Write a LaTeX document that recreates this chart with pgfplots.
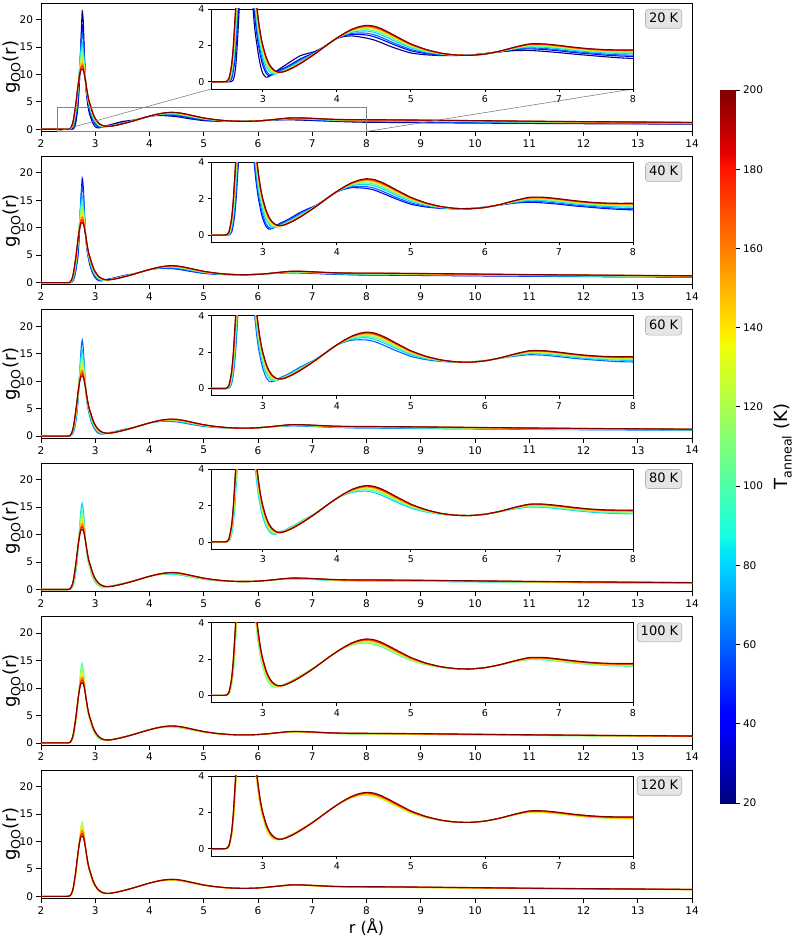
\documentclass[border=0pt]{standalone}
\usepackage{fontspec}
\setmainfont{DejaVu Sans}
\usepackage{pgfplots}
\usepackage{pgfplotstable}
\pgfplotsset{compat=1.18}

\definecolor{c20}{rgb}{0,0,0.5}
\definecolor{c40}{rgb}{0,0,1}
\definecolor{c60}{rgb}{0,0.389,1}
\definecolor{c80}{rgb}{0,0.833,1}
\definecolor{c100}{rgb}{0.303,1,0.665}
\definecolor{c120}{rgb}{0.664,1,0.303}
\definecolor{c140}{rgb}{1,0.9,0}
\definecolor{c160}{rgb}{1,0.489,0}
\definecolor{c180}{rgb}{1,0.078,0}
\definecolor{c200}{rgb}{0.5,0,0}
\definecolor{boxfill}{rgb}{0.9,0.9,0.9}
\definecolor{boxedge}{rgb}{0.7,0.7,0.7}

\pgfplotsset{colormap={mpljet}{rgb(0pt)=(0,0,0.5) rgb(22pt)=(0,0,1) rgb(25pt)=(0,0,1) rgb(68pt)=(0,0.86,1) rgb(70pt)=(0,0.9,0.968) rgb(75pt)=(0.081,1,0.887) rgb(128pt)=(0.935,1,0.032) rgb(130pt)=(0.968,0.963,0) rgb(132pt)=(1,0.926,0) rgb(178pt)=(1,0.074,0) rgb(182pt)=(0.909,0,0) rgb(200pt)=(0.5,0,0)}}

\pgfplotstableread{
r     T20   T40   T60   T80   T100  T120  T140  T160  T180  T200
2.00  0     0     0     0     0     0     0     0     0     0
2.40  0     0     0     0     0     0     0     0     0     0
2.46  0     0     0     0     0     0     0     0     0     0
2.50  0     0     0     0     0     0     0     0     0     0.01
2.52  0     0     0     0     0.01  0.02  0.03  0.04  0.04  0.05
2.54  0     0.01  0.02  0.04  0.06  0.09  0.11  0.13  0.14  0.15
2.56  0     0.06  0.09  0.14  0.21  0.29  0.36  0.41  0.46  0.50
2.58  0.02  0.18  0.31  0.46  0.59  0.70  0.80  0.88  0.94  1.00
2.60  0.10  0.55  0.72  0.94  1.16  1.36  1.54  1.68  1.79  1.90
2.62  0.40  1.09  1.40  1.79  2.13  2.42  2.68  2.88  3.04  3.20
2.64  1.10  2.03  2.48  3.04  3.45  3.76  4.04  4.25  4.40  4.60
2.66  2.40  3.34  3.83  4.40  4.90  5.20  5.56  5.80  5.95  6.20
2.68  4.00  4.60  5.90  6.70  7.10  7.30  7.50  7.60  7.70  7.80
2.70  7.00  7.40  8.90  9.50  9.60  9.50  9.40  9.30  9.20  9.10
2.72  11.5  11.3  12.6  12.5  12.0  11.4  11.0  10.7  10.45 10.2
2.74  17.0  15.8  16.0  14.8  13.8  12.9  12.2  11.65 11.25 10.85
2.76  21.5  19.0  17.5  15.7  14.5  13.5  12.7  12.0  11.5  11.0
2.78  19.5  17.3  16.0  14.5  13.4  12.6  12.0  11.5  11.1  10.7
2.80  13.5  13.0  12.6  12.0  11.6  11.2  10.8  10.4  10.1  9.9
2.82  8.80  9.00  9.00  9.00  9.00  9.00  8.95  8.90  8.85  8.80
2.84  6.20  6.60  6.80  7.00  7.20  7.30  7.40  7.45  7.50  7.60
2.86  4.60  5.20  5.40  5.70  5.85  6.00  6.10  6.20  6.30  6.40
2.88  3.40  4.15  4.40  4.70  4.90  5.00  5.15  5.25  5.30  5.40
2.90  2.60  3.25  3.60  3.95  4.20  4.30  4.45  4.55  4.62  4.70
2.92  2.05  2.60  2.85  3.20  3.50  3.65  3.80  3.95  4.02  4.10
2.94  1.50  2.03  2.25  2.55  2.80  2.95  3.10  3.25  3.35  3.45
2.96  1.05  1.60  1.82  2.10  2.30  2.45  2.60  2.70  2.78  2.85
2.98  0.70  1.20  1.42  1.70  1.88  2.02  2.15  2.25  2.32  2.38
3.00  0.45  0.90  1.10  1.35  1.55  1.70  1.80  1.90  1.95  2.00
3.04  0.25  0.50  0.65  0.90  1.00  1.12  1.25  1.33  1.38  1.42
3.08  0.28  0.33  0.42  0.62  0.70  0.80  0.88  0.95  0.98  1.02
3.12  0.40  0.36  0.37  0.45  0.52  0.60  0.66  0.71  0.74  0.77
3.16  0.52  0.46  0.42  0.41  0.45  0.50  0.54  0.58  0.60  0.62
3.20  0.63  0.57  0.52  0.47  0.46  0.48  0.50  0.52  0.53  0.54
3.25  0.77  0.69  0.63  0.57  0.54  0.52  0.52  0.52  0.52  0.53
3.30  0.90  0.77  0.71  0.66  0.64  0.62  0.60  0.59  0.58  0.57
3.40  1.17  1.00  0.93  0.87  0.83  0.81  0.79  0.78  0.76  0.75
3.50  1.42  1.24  1.17  1.10  1.07  1.04  1.02  1.01  0.99  0.98
3.60  1.55  1.43  1.37  1.33  1.30  1.28  1.27  1.26  1.25  1.24
3.70  1.66  1.60  1.58  1.56  1.55  1.54  1.53  1.53  1.52  1.52
3.80  1.86  1.84  1.84  1.83  1.83  1.83  1.82  1.82  1.82  1.82
3.90  2.12  2.12  2.12  2.12  2.12  2.12  2.12  2.12  2.12  2.12
4.00  2.38  2.38  2.39  2.39  2.39  2.40  2.40  2.40  2.40  2.40
4.10  2.49  2.53  2.55  2.58  2.60  2.62  2.63  2.64  2.65  2.66
4.20  2.52  2.61  2.66  2.72  2.76  2.79  2.82  2.84  2.86  2.88
4.30  2.47  2.60  2.68  2.78  2.85  2.90  2.94  2.97  3.00  3.03
4.40  2.40  2.57  2.67  2.79  2.87  2.93  2.99  3.03  3.07  3.10
4.50  2.30  2.48  2.59  2.72  2.81  2.88  2.94  2.98  3.02  3.06
4.60  2.15  2.33  2.44  2.57  2.67  2.74  2.80  2.84  2.88  2.92
4.70  1.98  2.16  2.26  2.39  2.48  2.54  2.60  2.65  2.68  2.72
4.80  1.83  1.99  2.08  2.20  2.28  2.34  2.39  2.43  2.47  2.50
5.00  1.58  1.70  1.77  1.86  1.92  1.96  2.00  2.03  2.06  2.08
5.20  1.48  1.55  1.59  1.65  1.68  1.71  1.73  1.75  1.77  1.78
5.40  1.44  1.47  1.49  1.52  1.53  1.55  1.56  1.57  1.57  1.58
5.60  1.44  1.45  1.45  1.46  1.46  1.46  1.47  1.47  1.47  1.47
5.80  1.47  1.47  1.46  1.46  1.46  1.45  1.45  1.45  1.45  1.45
6.00  1.55  1.54  1.54  1.53  1.53  1.53  1.52  1.52  1.52  1.52
6.20  1.64  1.65  1.66  1.66  1.67  1.67  1.67  1.68  1.68  1.68
6.40  1.71  1.76  1.78  1.81  1.84  1.85  1.87  1.88  1.89  1.90
6.60  1.72  1.81  1.86  1.92  1.96  1.99  2.02  2.04  2.06  2.08
6.80  1.67  1.77  1.83  1.90  1.94  1.98  2.01  2.04  2.06  2.08
7.00  1.60  1.70  1.75  1.82  1.87  1.90  1.94  1.96  1.98  2.00
7.20  1.52  1.61  1.66  1.73  1.77  1.81  1.84  1.86  1.88  1.90
7.40  1.45  1.54  1.59  1.65  1.70  1.73  1.76  1.78  1.80  1.82
7.60  1.38  1.47  1.53  1.59  1.64  1.68  1.71  1.73  1.75  1.77
7.80  1.32  1.42  1.48  1.56  1.61  1.65  1.68  1.71  1.73  1.75
8.00  1.28  1.39  1.46  1.54  1.59  1.64  1.67  1.70  1.73  1.75
8.50  1.24  1.36  1.42  1.50  1.56  1.60  1.64  1.67  1.70  1.72
9.00  1.20  1.32  1.38  1.46  1.52  1.56  1.60  1.63  1.66  1.68
10.0  1.13  1.24  1.30  1.38  1.43  1.47  1.51  1.54  1.56  1.58
11.0  1.07  1.17  1.23  1.30  1.34  1.38  1.41  1.44  1.46  1.48
12.0  1.02  1.11  1.16  1.23  1.27  1.31  1.34  1.36  1.38  1.40
13.0  0.98  1.06  1.11  1.17  1.21  1.25  1.27  1.30  1.31  1.33
14.0  0.95  1.02  1.07  1.12  1.16  1.19  1.21  1.23  1.24  1.26
}\gdata

\pgfplotstableread{
x y c
0 20 20
1 20 20
1 39.8 39.8
0 39.8 39.8
0 39.8 39.8
1 39.8 39.8
1 42.5 42.5
0 42.5 42.5
0 42.5 42.5
1 42.5 42.5
1 81.2 81.2
0 81.2 81.2
0 81.2 81.2
1 81.2 81.2
1 83 83
0 83 83
0 83 83
1 83 83
1 87.5 87.5
0 87.5 87.5
0 87.5 87.5
1 87.5 87.5
1 135.2 135.2
0 135.2 135.2
0 135.2 135.2
1 135.2 135.2
1 137 137
0 137 137
0 137 137
1 137 137
1 138.8 138.8
0 138.8 138.8
0 138.8 138.8
1 138.8 138.8
1 180.2 180.2
0 180.2 180.2
0 180.2 180.2
1 180.2 180.2
1 183.8 183.8
0 183.8 183.8
0 183.8 183.8
1 183.8 183.8
1 200 200
0 200 200
}\cbdata

\newcommand{\crv}[1]{\addplot[c#1, line width=1.1pt, smooth, tension=0.35] table[x=r, y=T#1] {\gdata};}

\tikzset{
  tlabel/.style={anchor=north east, fill=boxfill, draw=boxedge, line width=0.6pt, rounded corners=3pt,
    inner sep=3.5pt, text height=9.5pt, text depth=2.5pt, font=\fontsize{13}{15}\selectfont},
}

\pgfplotsset{
  common/.style={scale only axis, anchor=south west, tick align=outside,
    xtick pos=bottom, ytick pos=left,
    tick style={black, line width=0.8pt},
    axis line style={black, line width=0.9pt},
    /pgf/number format/assume math mode=true},
  mainax/.style={common, width=651pt, height=128.5pt,
    xmin=2, xmax=14, ymin=-0.4, ymax=23,
    xtick={2,3,...,14}, ytick={0,5,10,15,20},
    major tick length=4.5pt,
    tick label style={font=\fontsize{10.5}{12}\selectfont},
    ylabel={g\textsubscript{OO}(r)},
    ylabel style={font=\fontsize{18}{21}\selectfont, at={(axis description cs:-0.0445,0.5)}, anchor=center}},
  insax/.style={common, width=422pt, height=80pt,
    xmin=2.3, xmax=8, ymin=-0.4, ymax=4,
    xtick={3,4,...,8}, ytick={0,2,4},
    major tick length=3pt,
    tick label style={font=\fontsize{9.5}{11}\selectfont},
    axis background/.style={fill=white}},
}

\begin{document}
\begin{tikzpicture}
\path[use as bounding box] (0pt,0pt) rectangle (793pt,938pt);

% ---------- panel 1 : 20 K
\begin{axis}[mainax, at={(41pt,806.5pt)}]
\crv{20}\crv{40}\crv{60}\crv{80}\crv{100}\crv{120}\crv{140}\crv{160}\crv{180}\crv{200}
\draw[gray, line width=0.6pt] (axis cs:2.3,-0.4) rectangle (axis cs:8,4);
\coordinate (cA) at (axis cs:2.3,-0.4);
\coordinate (cB) at (axis cs:8,-0.4);
\node[tlabel] at (rel axis cs:1,1) [xshift=-10pt, yshift=-6pt] {20 K};
\end{axis}
\draw[gray, line width=0.6pt] (cA) -- (211pt,849pt);
\draw[gray, line width=0.6pt] (cB) -- (633pt,849pt);
\begin{axis}[insax, at={(211pt,849pt)}]
\crv{20}\crv{40}\crv{60}\crv{80}\crv{100}\crv{120}\crv{140}\crv{160}\crv{180}\crv{200}
\end{axis}

% ---------- panel 2 : 40 K
\begin{axis}[mainax, at={(41pt,653.1pt)}]
\crv{40}\crv{60}\crv{80}\crv{100}\crv{120}\crv{140}\crv{160}\crv{180}\crv{200}
\node[tlabel] at (rel axis cs:1,1) [xshift=-10pt, yshift=-6pt] {40 K};
\end{axis}
\begin{axis}[insax, at={(211pt,695.6pt)}]
\crv{40}\crv{60}\crv{80}\crv{100}\crv{120}\crv{140}\crv{160}\crv{180}\crv{200}
\end{axis}

% ---------- panel 3 : 60 K
\begin{axis}[mainax, at={(41pt,499.7pt)}]
\crv{60}\crv{80}\crv{100}\crv{120}\crv{140}\crv{160}\crv{180}\crv{200}
\node[tlabel] at (rel axis cs:1,1) [xshift=-10pt, yshift=-6pt] {60 K};
\end{axis}
\begin{axis}[insax, at={(211pt,542.2pt)}]
\crv{60}\crv{80}\crv{100}\crv{120}\crv{140}\crv{160}\crv{180}\crv{200}
\end{axis}

% ---------- panel 4 : 80 K
\begin{axis}[mainax, at={(41pt,346.3pt)}]
\crv{80}\crv{100}\crv{120}\crv{140}\crv{160}\crv{180}\crv{200}
\node[tlabel] at (rel axis cs:1,1) [xshift=-10pt, yshift=-6pt] {80 K};
\end{axis}
\begin{axis}[insax, at={(211pt,388.8pt)}]
\crv{80}\crv{100}\crv{120}\crv{140}\crv{160}\crv{180}\crv{200}
\end{axis}

% ---------- panel 5 : 100 K
\begin{axis}[mainax, at={(41pt,192.9pt)}]
\crv{100}\crv{120}\crv{140}\crv{160}\crv{180}\crv{200}
\node[tlabel] at (rel axis cs:1,1) [xshift=-10pt, yshift=-6pt] {100 K};
\end{axis}
\begin{axis}[insax, at={(211pt,235.4pt)}]
\crv{100}\crv{120}\crv{140}\crv{160}\crv{180}\crv{200}
\end{axis}

% ---------- panel 6 : 120 K
\begin{axis}[mainax, at={(41pt,39.5pt)},
  xlabel={r (Å)},
  xlabel style={font=\fontsize{16}{19}\selectfont, at={(axis description cs:0.5,-0.2257)}, anchor=center}]
\crv{120}\crv{140}\crv{160}\crv{180}\crv{200}
\node[tlabel] at (rel axis cs:1,1) [xshift=-10pt, yshift=-6pt] {120 K};
\end{axis}
\begin{axis}[insax, at={(211pt,82pt)}]
\crv{120}\crv{140}\crv{160}\crv{180}\crv{200}
\end{axis}

% ---------- colour bar
\begin{axis}[scale only axis, anchor=south west, at={(720pt,135pt)},
  width=15pt, height=713pt, xmin=0, xmax=1, ymin=20, ymax=200,
  xtick=\empty, ytick={20,40,...,200},
  ytick pos=right, yticklabel pos=right, tick align=outside,
  major tick length=4.5pt,
  tick style={black, line width=0.8pt},
  axis line style={black, line width=0.9pt},
  tick label style={font=\fontsize{10.5}{12}\selectfont},
  /pgf/number format/assume math mode=true,
  colormap name=mpljet, point meta min=20, point meta max=200,
  ylabel={T\textsubscript{anneal} (K)},
  ylabel style={font=\fontsize{18}{21}\selectfont, at={(axis description cs:4.2,0.5)}, anchor=center}]
\addplot[patch, patch type=rectangle, shader=interp, point meta=explicit] table[x=x, y=y, meta=c] {\cbdata};
\end{axis}
\end{tikzpicture}
\end{document}
